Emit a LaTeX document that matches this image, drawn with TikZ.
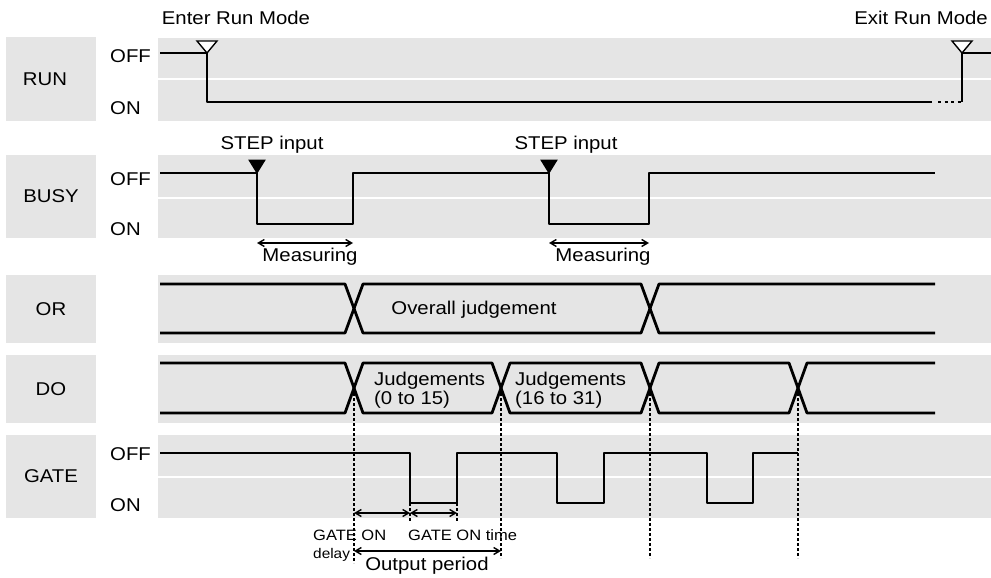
\documentclass[tikz,border=0pt]{standalone}
\usepackage{fontspec}
\setmainfont{Liberation Sans}[FakeStretch=1.1]
\usetikzlibrary{arrows.meta}
\definecolor{bandgray}{RGB}{229,229,229}
\tikzstyle{rowbox} = [rectangle, fill=bandgray, minimum width=90pt, inner sep=0pt, font=\fontsize{18.5}{20}\selectfont]
\tikzstyle{band} = [fill=bandgray]
\tikzstyle{level} = [anchor=west, inner sep=0pt, font=\fontsize{18.5}{20}\selectfont]
\tikzstyle{note} = [inner sep=0pt, font=\fontsize{18.5}{19}\selectfont]
\tikzstyle{small} = [inner sep=0pt, anchor=west, font=\fontsize{15}{16}\selectfont]
\tikzstyle{signal} = [line width=2.8pt, line join=round]
\tikzstyle{guide} = [line width=1.8pt, dash pattern=on 2.5pt off 2.5pt]
\tikzstyle{span} = [line width=1.4pt, {Straight Barb[length=6pt,width=7pt]}-{Straight Barb[length=6pt,width=7pt]}]
\tikzstyle{opentri} = [draw, fill=white, line width=1.4pt, line join=miter]
\tikzstyle{filltri} = [draw, fill=black, line width=1pt, line join=miter]

\begin{document}
\begin{tikzpicture}[x=1pt, y=-1pt]
      \useasboundingbox (0,0) rectangle (991,578);

      % row labels
      \node (run)  [rowbox, minimum height=84pt] at (51,79)  {RUN\hspace*{12pt}};
      \node (busy) [rowbox, minimum height=83pt] at (51,196.5) {BUSY};
      \node (or)   [rowbox, minimum height=68pt] at (51,309) {OR};
      \node (do)   [rowbox, minimum height=68pt] at (51,389) {DO};
      \node (gate) [rowbox, minimum height=83pt] at (51,476.5) {GATE};

      % grey bands
      \fill[band] (158,38)  rectangle (991,78);
      \fill[band] (158,80)  rectangle (991,121);
      \fill[band] (158,155) rectangle (991,197);
      \fill[band] (158,199) rectangle (991,238);
      \fill[band] (158,275) rectangle (991,343);
      \fill[band] (158,355) rectangle (991,423);
      \fill[band] (158,435) rectangle (991,476);
      \fill[band] (158,478) rectangle (991,518);

      % OFF / ON levels
      \node (runoff)  [level] at (110,56.5)  {OFF};
      \node (runon)   [level] at (110,108.5) {ON};
      \node (busyoff) [level] at (110,179)   {OFF};
      \node (busyon)  [level] at (110,229)   {ON};
      \node (gateoff) [level] at (110,454.5) {OFF};
      \node (gateon)  [level] at (110,505.5) {ON};

      % guides
      \draw[guide] (354,388) -- (354,563);
      \draw[guide] (501,388) -- (501,558);
      \draw[guide] (650,388) -- (650,558);
      \draw[guide] (798,388) -- (798,558);
      \draw[guide] (410,503) -- (410,522);
      \draw[guide] (457,503) -- (457,522);

      % RUN
      \coordinate (enter) at (207,53);
      \coordinate (exit)  at (962,53);
      \draw[signal] (160,53) -- (enter) -- (207,102) -- (932,102);
      \draw[line width=2.8pt, dash pattern=on 3pt off 3.5pt] (938,102) -- (962,102);
      \draw[signal] (962,102) -- (exit) -- (991,53);
      \draw[opentri] (enter) -- ++(-10,-12) -- ++(20,0) -- cycle;
      \draw[opentri] (exit) -- ++(-10,-12) -- ++(20,0) -- cycle;
      \node (enterlbl) [note] at (236,18) {Enter Run Mode};
      \node (exitlbl)  [note, anchor=east] at (988,18) {Exit Run Mode};

      % BUSY
      \coordinate (step1) at (257,173);
      \coordinate (step2) at (549,173);
      \draw[signal] (160,173) -- (step1) -- (257,224) -- (353,224) -- (353,173)
                    -- (step2) -- (549,224) -- (649,224) -- (649,173) -- (935,173);
      \draw[filltri] (step1) -- ++(-8,-13) -- ++(16,0) -- cycle;
      \draw[filltri] (step2) -- ++(-8,-13) -- ++(16,0) -- cycle;
      \node (steplbl1) [note] at (272,145) {STEP input};
      \node (steplbl2) [note] at (566,145) {STEP input};
      \coordinate (m1a) at (257,243);
      \coordinate (m1b) at (353,243);
      \coordinate (m2a) at (549,243);
      \coordinate (m2b) at (649,243);
      \draw[span] (m1a) -- (m1b);
      \draw[span] (m2a) -- (m2b);
      \node (meas1) [note] at (310,257) {Measuring};
      \node (meas2) [note] at (603,257) {Measuring};

      % OR
      \draw[signal] (160,284) -- (345,284) -- (354,308.5) -- (345,333) -- (160,333);
      \draw[signal] (354,308.5) -- (363,284) -- (641,284) -- (650,308.5) -- (641,333) -- (363,333) -- cycle;
      \draw[signal] (935,284) -- (659,284) -- (650,308.5) -- (659,333) -- (935,333);
      \node (overall) [note] at (474,310) {Overall judgement};

      % DO
      \draw[signal] (160,363) -- (345,363) -- (354,388) -- (345,413) -- (160,413);
      \foreach \a/\b in {354/501, 501/650, 650/798}
        \draw[signal] (\a,388) -- (\a+9,363) -- (\b-9,363) -- (\b,388) -- (\b-9,413) -- (\a+9,413) -- cycle;
      \draw[signal] (935,363) -- (807,363) -- (798,388) -- (807,413) -- (935,413);
      \node (judge1) [note, anchor=west, align=left] at (374,390) {Judgements\\(0 to 15)};
      \node (judge2) [note, anchor=west, align=left] at (515,390) {Judgements\\(16 to 31)};

      % GATE
      \draw[signal] (160,453) -- (410,453) -- (410,503) -- (457,503) -- (457,453)
                    -- (557,453) -- (557,503) -- (604,503) -- (604,453)
                    -- (707,453) -- (707,503) -- (753,503) -- (753,453) -- (798,453);
      \coordinate (dly0) at (354,513);
      \coordinate (dly1) at (410,513);
      \coordinate (ontm) at (457,513);
      \draw[span] (dly0) -- (dly1);
      \draw[span] (dly1) -- (ontm);
      \coordinate (per0) at (354,551);
      \coordinate (per1) at (501,551);
      \draw[span] (per0) -- (per1);
      \node (gonlbl)   [small] at (313,535) {GATE ON};
      \node (delaylbl) [small, font=\fontsize{14}{15}\selectfont] at (313,555) {delay};
      \node (gontime)  [small] at (408,535) {GATE ON time};
      \node (period)   [note] at (427,566) {Output period};
\end{tikzpicture}
\end{document}
